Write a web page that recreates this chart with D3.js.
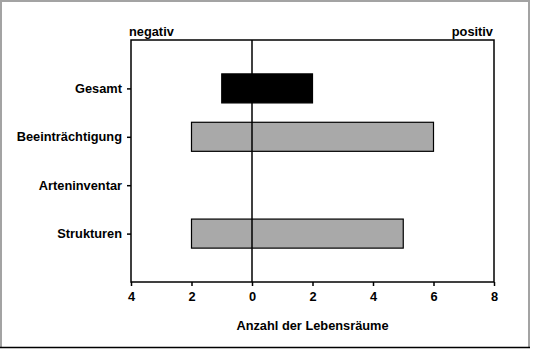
<!DOCTYPE html>
<html>
<head>
<meta charset="utf-8">
<script src="https://cdn.jsdelivr.net/npm/d3@7"></script>
<style>
  body { margin: 0; background: #fff; }
  svg { display: block; font-family: "Liberation Sans", Arial, sans-serif; }
</style>
</head>
<body>
<div id="chart"></div>
<script>
const categories = ["Gesamt", "Beeinträchtigung", "Arteninventar", "Strukturen"];
const negValues = [-1, -2, 0, -2];
const posValues = [2, 6, 0, 5];
const barColors = ["#000000", "#a9a9a9", "#a9a9a9", "#a9a9a9"];
const xTicks = [-4, -2, 0, 2, 4, 6, 8];

const width = 536, height = 352;
const margin = { top: 40, right: 42, bottom: 70, left: 131 };
const innerW = width - margin.left - margin.right;
const innerH = height - margin.top - margin.bottom;
const fontSize = "12.8px";

const svg = d3.select("#chart").append("svg")
  .attr("width", width).attr("height", height);

// frame around the picture
svg.append("path").attr("d", "M1,348 V1 H529 V348")
  .attr("fill", "none").attr("stroke", "#a3a3a3").attr("stroke-width", 2);
svg.append("line").attr("x1", 0).attr("x2", 530).attr("y1", 347.5).attr("y2", 347.5)
  .attr("stroke", "#000").attr("stroke-width", 1.5);

const g = svg.append("g").attr("transform", `translate(${margin.left},${margin.top})`);

const x = d3.scaleLinear().domain([-4, 8]).range([0, innerW]);
const y = d3.scalePoint().domain(categories).range([0, innerH]).padding(1);
const barH = y.step() * 0.6;

const data = categories.map((c, i) => ({ c, lo: negValues[i], hi: posValues[i], color: barColors[i] }));

g.selectAll("rect.bar")
  .data(data.filter(d => d.hi !== d.lo))
  .join("rect")
  .attr("class", "bar")
  .attr("x", d => x(d.lo))
  .attr("y", d => y(d.c) - barH / 2)
  .attr("width", d => x(d.hi) - x(d.lo))
  .attr("height", barH)
  .attr("fill", d => d.color)
  .attr("stroke", "#000")
  .attr("stroke-width", 1.2);

// zero line
g.append("line")
  .attr("x1", x(0)).attr("x2", x(0)).attr("y1", 0).attr("y2", innerH)
  .attr("stroke", "#000").attr("stroke-width", 1.5);

// plot box
g.append("rect").attr("width", innerW).attr("height", innerH)
  .attr("fill", "none").attr("stroke", "#000").attr("stroke-width", 1.5);

const xAxis = g.append("g")
  .attr("transform", `translate(0,${innerH})`)
  .call(d3.axisBottom(x).tickValues(xTicks).tickFormat(d => Math.abs(d)).tickSize(4).tickPadding(6));

const yAxis = g.append("g")
  .call(d3.axisLeft(y).tickSize(4).tickPadding(5));

[xAxis, yAxis].forEach(a => {
  a.select(".domain").remove();
  a.selectAll(".tick line").attr("stroke", "#000").attr("stroke-width", 1.5);
  a.selectAll(".tick text")
    .attr("fill", "#000")
    .style("font-size", fontSize)
    .style("font-weight", "bold")
    .style("font-family", "'Liberation Sans', Arial, sans-serif");
});

svg.append("text")
  .attr("x", margin.left + innerW / 2).attr("y", 330)
  .attr("text-anchor", "middle")
  .style("font-size", fontSize).style("font-weight", "bold")
  .text("Anzahl der Lebensräume");

svg.append("text")
  .attr("x", margin.left - 2).attr("y", 36)
  .style("font-size", fontSize).style("font-weight", "bold")
  .text("negativ");

svg.append("text")
  .attr("x", margin.left + innerW - 1).attr("y", 36)
  .attr("text-anchor", "end")
  .style("font-size", fontSize).style("font-weight", "bold")
  .text("positiv");
</script>
</body>
</html>
